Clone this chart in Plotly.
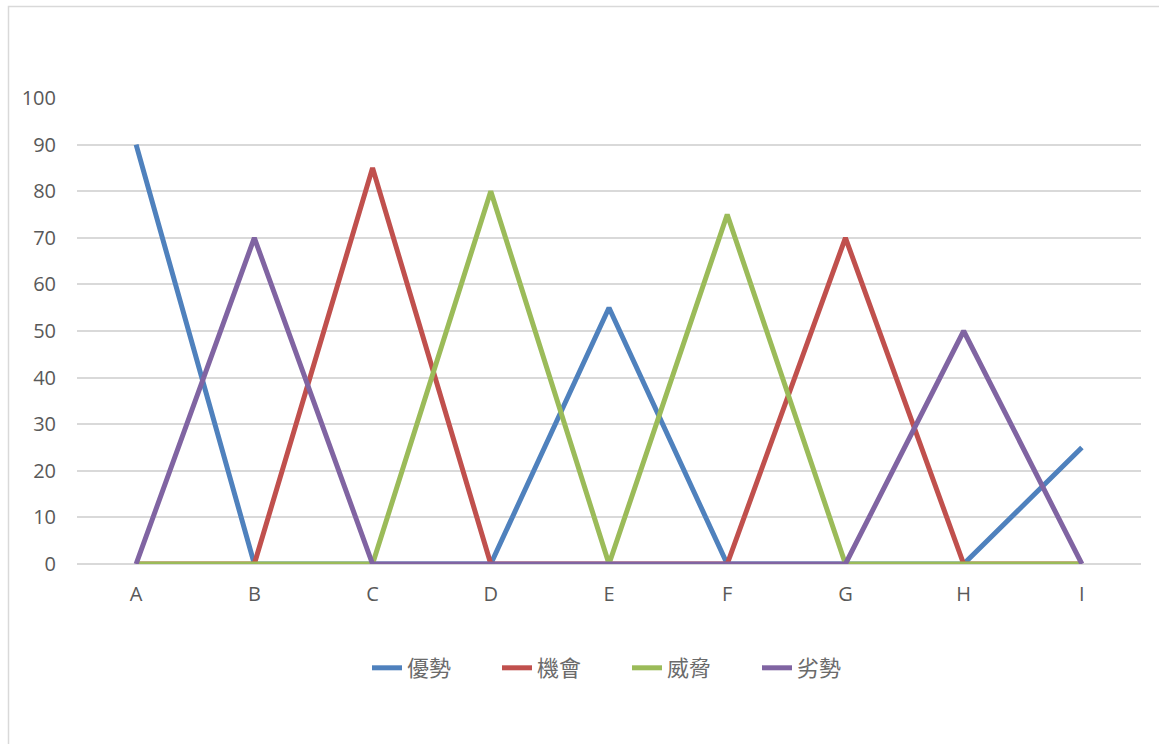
import plotly.graph_objects as go

categories = ["A", "B", "C", "D", "E", "F", "G", "H", "I"]
advantage = [90, 0, 0, 0, 55, 0, 0, 0, 25]      # 優勢
opportunity = [0, 0, 85, 0, 0, 0, 70, 0, 0]     # 機會
threat = [0, 0, 0, 80, 0, 75, 0, 0, 0]          # 威脅
weakness = [0, 70, 0, 0, 0, 0, 0, 50, 0]        # 劣勢
series_names = ["優勢", "機會", "威脅", "劣勢"]
y_ticks = [0, 10, 20, 30, 40, 50, 60, 70, 80, 90, 100]

colors = ["#4F81BD", "#C0504D", "#9BBB59", "#8064A2"]

fig = go.Figure()
for name, vals, col in zip(series_names, [advantage, opportunity, threat, weakness], colors):
    fig.add_trace(go.Scatter(
        x=categories, y=vals, name=name, mode="lines",
        line=dict(color=col, width=5),
        cliponaxis=False,
    ))

W, H = 1159, 744
l, r, t, b = 77, 18, 98, 180
pw, ph = W - l - r, H - t - b

def px_x(p):
    return (p - l) / pw

def px_y(p):
    return (H - b - p) / ph

fig.update_layout(
    width=W, height=H,
    margin=dict(l=l, r=r, t=t, b=b, autoexpand=False),
    paper_bgcolor="white", plot_bgcolor="white",
    font=dict(family="Open Sans, Liberation Sans, sans-serif", size=20, color="#595959"),
    xaxis=dict(
        range=[-0.5, 8.5], showgrid=False, zeroline=False,
        showline=False, ticks="", ticklabelstandoff=16,
        tickfont=dict(size=20, color="#595959"),
    ),
    yaxis=dict(
        range=[0, 100], tickvals=y_ticks, showgrid=True, gridcolor="#D9D9D9",
        gridwidth=1.5, zeroline=True, zerolinecolor="#D9D9D9", zerolinewidth=1.5,
        showline=False, ticks="", ticklabelstandoff=20,
        tickfont=dict(size=20, color="#595959"),
    ),
    legend=dict(
        orientation="h", x=px_x(627), y=px_y(668), xanchor="center", yanchor="middle",
        font=dict(family="Noto Sans CJK TC, Noto Sans CJK SC, sans-serif", size=22, color="#6b6b6b"),
        entrywidth=85, entrywidthmode="pixels", tracegroupgap=0,
    ),
    showlegend=True,
    shapes=[dict(
        type="rect", xref="paper", yref="paper",
        x0=px_x(8.5), x1=px_x(1175), y0=px_y(760), y1=px_y(6.5),
        line=dict(color="#D9D9D9", width=1.5), fillcolor="rgba(0,0,0,0)", layer="below",
    )],
)

fig.write_html("out.html")
